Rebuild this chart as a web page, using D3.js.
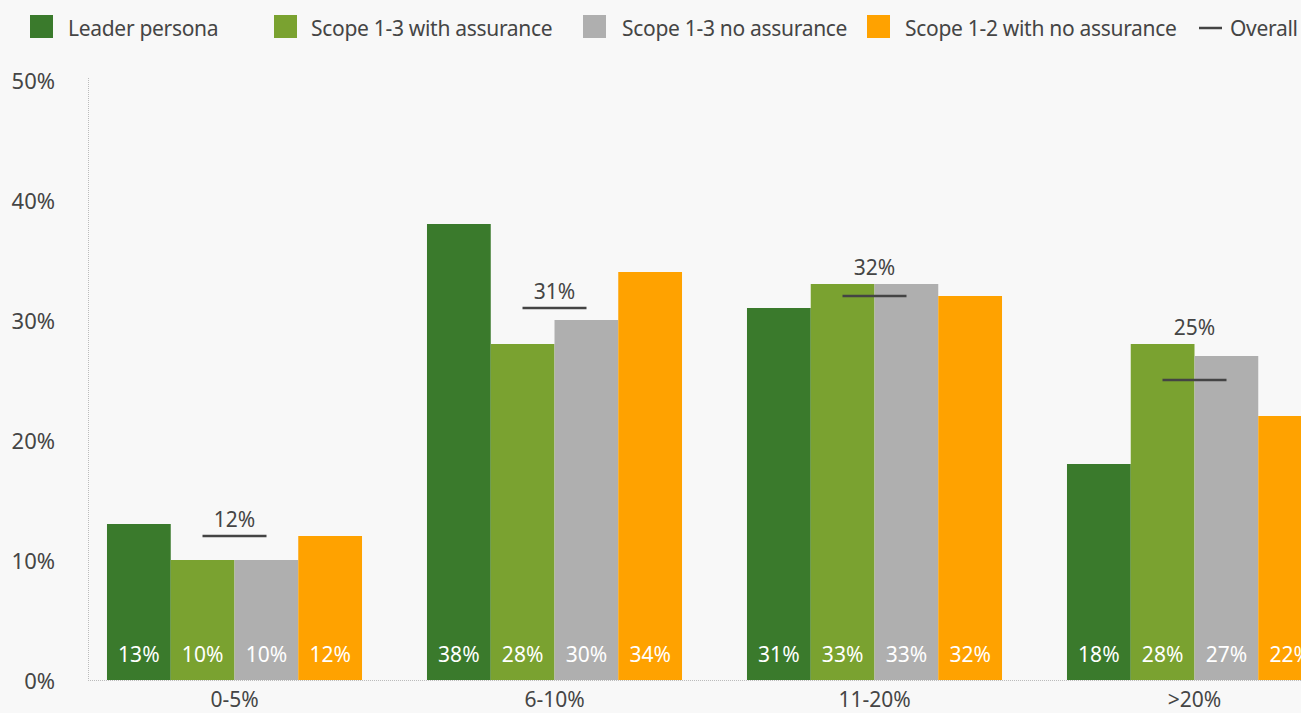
<!DOCTYPE html>
<html><head><meta charset="utf-8">
<script src="https://cdn.jsdelivr.net/npm/d3@7"></script>
<style>
html,body{margin:0;padding:0;background:#f8f8f8;}
svg{display:block;font-family:"Noto Sans",sans-serif;}
</style></head><body>
<svg id="c" width="1301" height="713"></svg>
<script>
const categories = ["0-5%", "6-10%", "11-20%", ">20%"];
const seriesNames = ["Leader persona", "Scope 1-3 with assurance", "Scope 1-3 no assurance", "Scope 1-2 with no assurance"];
const leaderPersona = [13, 38, 31, 18];
const scope13With = [10, 28, 33, 28];
const scope13No = [10, 30, 33, 27];
const scope12No = [12, 34, 32, 22];
const overall = [12, 31, 32, 25];
const yTicks = [0, 10, 20, 30, 40, 50];
const colors = ["#3a7a2c", "#7aa230", "#afafaf", "#ffa200"];

const series = [leaderPersona, scope13With, scope13No, scope12No];
const svg = d3.select("#c");
const textColor = "#454545";
const FS = 21;

const y = d3.scaleLinear().domain([0, 50]).range([680, 80]);
const x0 = d3.scaleBand().domain(categories).range([74.5, 1354.5]).paddingInner(0.203).paddingOuter(0.1015);
const x1 = d3.scaleBand().domain(d3.range(series.length)).range([0, x0.bandwidth()]);

// axes lines (dotted)
svg.append("line").attr("x1", 88.5).attr("x2", 88.5).attr("y1", 78).attr("y2", 680)
  .attr("stroke", "#bbb").attr("stroke-dasharray", "1,1");
svg.append("line").attr("x1", 88).attr("x2", 1301).attr("y1", 680.5).attr("y2", 680.5)
  .attr("stroke", "#bbb").attr("stroke-dasharray", "1,1");

// y tick labels
const yAxis = d3.axisLeft(y).tickValues(yTicks).tickFormat(d => d + "%").tickSize(0).tickPadding(0);
const gy = svg.append("g").attr("transform", "translate(55,1)").call(yAxis);
gy.select(".domain").remove();
gy.selectAll("text").attr("font-size", 22).attr("fill", textColor).attr("font-family", "Noto Sans").attr("dy", "0.32em");

// x labels
const xAxis = d3.axisBottom(x0).tickSize(0).tickPadding(0);
const gx = svg.append("g").attr("transform", "translate(0,692)").call(xAxis);
gx.select(".domain").remove();
gx.selectAll("text").attr("font-size", FS).attr("fill", textColor).attr("font-family", "Noto Sans").attr("dy", "0.71em");

// bars
const groups = svg.append("g").selectAll("g").data(categories).join("g")
  .attr("transform", d => `translate(${x0(d)},0)`);
groups.each(function(cat, ci) {
  const g = d3.select(this);
  series.forEach((s, si) => {
    g.append("rect").attr("x", x1(si)).attr("width", x1.bandwidth())
      .attr("y", y(s[ci])).attr("height", y(0) - y(s[ci])).attr("fill", colors[si]);
    g.append("text").attr("x", x1(si) + x1.bandwidth() / 2).attr("y", 655).attr("dy", "0.35em")
      .attr("text-anchor", "middle").attr("fill", "#fff").attr("font-size", FS).text(s[ci] + "%");
  });
  // overall line
  const cx = x0.bandwidth() / 2;
  const ly = y(overall[ci]);
  g.append("line").attr("x1", cx - 32).attr("x2", cx + 32).attr("y1", ly).attr("y2", ly)
    .attr("stroke", "#444").attr("stroke-width", 2.5);
  const top = Math.min(ly, y(series[1][ci]), y(series[2][ci]));
  g.append("text").attr("x", cx).attr("y", top - 16).attr("dy", "0.35em").attr("text-anchor", "middle")
    .attr("fill", textColor).attr("font-size", FS).text(overall[ci] + "%");
});

// legend
const legendItems = [
  {type: "rect", x: 30, tx: 68, label: seriesNames[0], color: colors[0]},
  {type: "rect", x: 274, tx: 311, label: seriesNames[1], color: colors[1]},
  {type: "rect", x: 583, tx: 622, label: seriesNames[2], color: colors[2]},
  {type: "rect", x: 867, tx: 905, label: seriesNames[3], color: colors[3]},
  {type: "line", x: 1199, tx: 1230, label: "Overall", color: "#444"}
];
const lg = svg.append("g");
legendItems.forEach(it => {
  if (it.type === "rect") {
    lg.append("rect").attr("x", it.x).attr("y", 15).attr("width", 23).attr("height", 23).attr("fill", it.color);
  } else {
    lg.append("line").attr("x1", it.x).attr("x2", it.x + 23).attr("y1", 28).attr("y2", 28)
      .attr("stroke", it.color).attr("stroke-width", 2.5);
  }
  lg.append("text").attr("x", it.tx).attr("y", 28).attr("dy", "0.4em").attr("font-size", FS)
    .attr("letter-spacing", "-0.3px").attr("fill", textColor).text(it.label);
});
</script>
</body></html>
